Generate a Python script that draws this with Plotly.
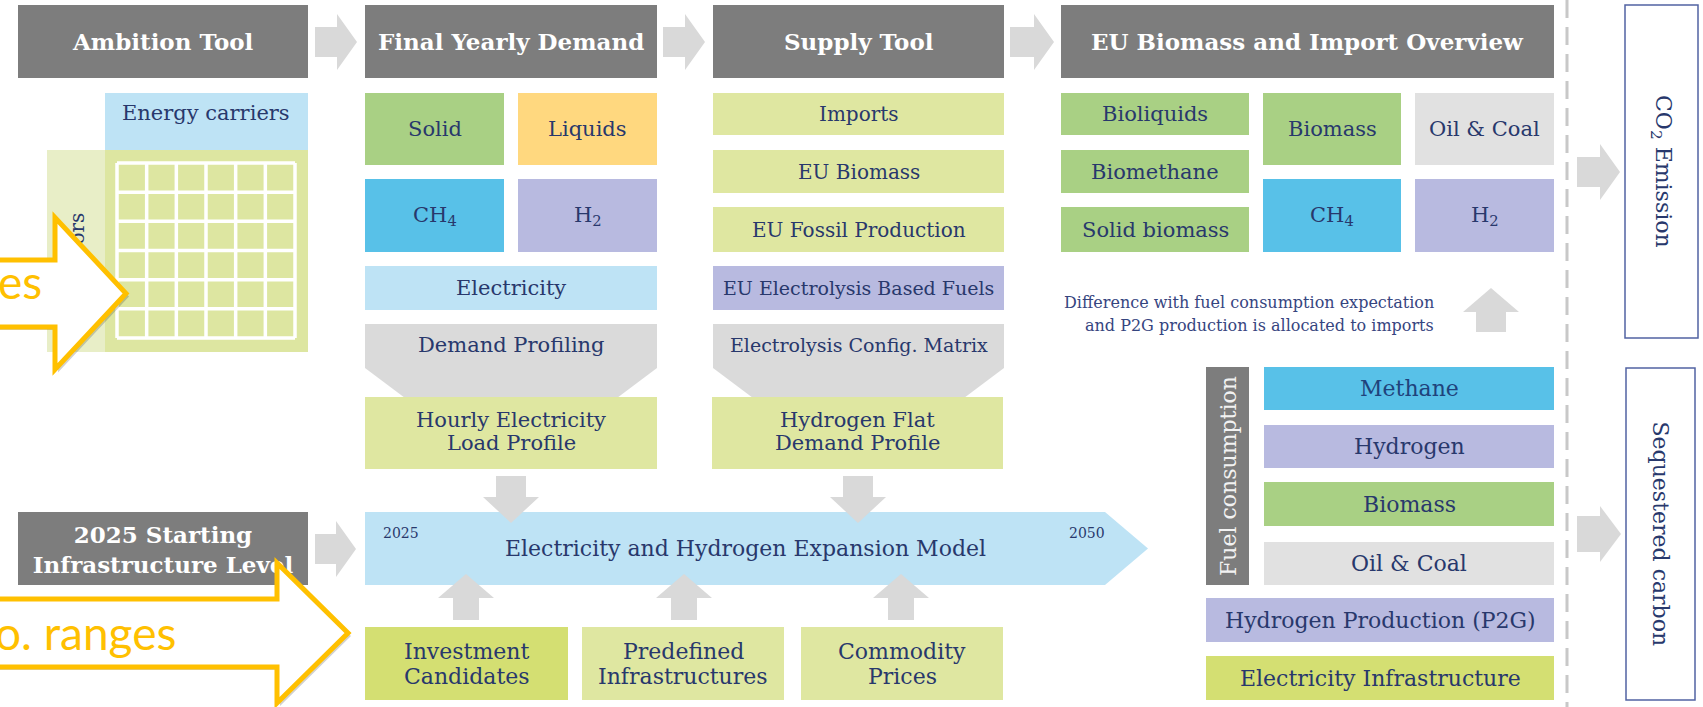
import plotly.graph_objects as go

W, H = 1703, 707
FONT = "DejaVu Serif"
NAVY = "#28386c"

# ---------------- text content ----------------
header_labels = ["Ambition Tool", "Final Yearly Demand", "Supply Tool", "EU Biomass and Import Overview"]
start_label = "2025 Starting<br>Infrastructure Level"
matrix_labels = ["Energy carriers", "Sectors"]
matrix_rows, matrix_cols = 6, 6
demand_labels = ["Solid", "Liquids", "CH<sub>4</sub>", "H<sub>2</sub>", "Electricity"]
supply_labels = ["Imports", "EU Biomass", "EU Fossil Production", "EU Electrolysis Based Fuels"]
profiling_labels = ["Demand Profiling", "Electrolysis Config. Matrix"]
profile_labels = [["Hourly Electricity", "Load Profile"], ["Hydrogen Flat", "Demand Profile"]]
model_label = "Electricity and Hydrogen Expansion Model"
horizon_labels = ["2025", "2050"]
input_labels = [["Investment", "Candidates"], ["Predefined", "Infrastructures"], ["Commodity", "Prices"]]
overview_labels = ["Bioliquids", "Biomethane", "Solid biomass", "Biomass", "Oil & Coal",
                   "CH<sub>4</sub>", "H<sub>2</sub>"]
note_lines = ["Difference with fuel consumption expectation",
              "and P2G production is allocated to imports"]
side_label = "Fuel consumption"
fuel_labels = ["Methane", "Hydrogen", "Biomass", "Oil & Coal"]
production_labels = ["Hydrogen Production (P2G)", "Electricity Infrastructure"]
outcome_labels = ["CO<sub>2</sub> Emission", "Sequestered carbon"]
callout_labels = ["es", "o. ranges"]

# ---------------- colours ----------------
DARK = "#7d7d7d"
ARROW = "#d9d9d9"
GREEN = "#a9d084"
ORANGE = "#ffd87f"
CYAN = "#58c1e8"
LAV = "#b8bae0"
LBLUE = "#bee3f5"
YG = "#dfe7a1"
YG2 = "#d4df72"
GREY = "#e1e1e1"
FUNNEL = "#dadada"
GOLD = "#ffc000"

# ---------------- layout geometry (x0, x1, y0, y1) in pixels ----------------
header_geo = [(18, 308, 5, 78), (365, 657, 5, 78), (713, 1004, 5, 78), (1061, 1554, 5, 78)]
start_geo = (18, 308, 512, 585)
demand_geo = [(365, 504, 93, 165), (518, 657, 93, 165), (365, 504, 179, 252),
              (518, 657, 179, 252), (365, 657, 266, 310)]
demand_col = [GREEN, ORANGE, CYAN, LAV, LBLUE]
supply_geo = [(713, 1004, 93, 135), (713, 1004, 150, 193), (713, 1004, 207, 252), (713, 1004, 266, 310)]
supply_col = [YG, YG, YG, LAV]
supply_size = [20, 20, 20, 19]
funnel_geo = [(365, 657, 324, 368, 398, 40), (713, 1004, 324, 368, 398, 40)]
profile_geo = [(365, 657, 397, 469), (712, 1003, 397, 469)]
input_geo = [(365, 568, 627, 700), (582, 784, 627, 700), (801, 1003, 627, 700)]
input_col = [YG2, YG, YG]
overview_geo = [(1061, 1249, 93, 135), (1061, 1249, 150, 193), (1061, 1249, 207, 252),
                (1263, 1401, 93, 165), (1415, 1554, 93, 165), (1263, 1401, 179, 252), (1415, 1554, 179, 252)]
overview_col = [GREEN, GREEN, GREEN, GREEN, GREY, CYAN, LAV]
side_geo = (1206, 1249, 367, 585)
fuel_geo = [(1264, 1554, 367, 410), (1264, 1554, 425, 468), (1264, 1554, 482, 526), (1264, 1554, 542, 585)]
fuel_col = [CYAN, LAV, GREEN, GREY]
production_geo = [(1206, 1554, 598, 642), (1206, 1554, 656, 700)]
production_col = [LAV, YG2]
outcome_geo = [(1625, 1698, 5, 338), (1626, 1695, 368, 700)]

shapes = []
annotations = []


def rect(g, fill, label=None, line=None):
    d = dict(type="rect", xref="x", yref="y", x0=g[0], x1=g[1], y0=g[2], y1=g[3],
             fillcolor=fill, line=line or dict(width=0), layer="above")
    if label:
        d["label"] = label
    shapes.append(d)


def poly(pts, fill, line=None):
    path = "M " + " L ".join(f"{x},{y}" for x, y in pts) + " Z"
    shapes.append(dict(type="path", xref="x", yref="y", path=path, fillcolor=fill,
                       line=line or dict(width=0), layer="above"))


def harrow(x0, x1, yc, bh, hh, hl, fill=ARROW):
    poly([(x0, yc - bh), (x1 - hl, yc - bh), (x1 - hl, yc - hh), (x1, yc),
          (x1 - hl, yc + hh), (x1 - hl, yc + bh), (x0, yc + bh)], fill)


def varrow(xc, y0, y1, bw, hw, hl, fill=ARROW):
    s = 1 if y1 > y0 else -1
    yb = y1 - s * hl
    poly([(xc - bw, y0), (xc - bw, yb), (xc - hw, yb), (xc, y1),
          (xc + hw, yb), (xc + bw, yb), (xc + bw, y0)], fill)


def txt(x, y, text, size=21, color=NAVY, angle=0, xanchor="center", family=FONT):
    annotations.append(dict(x=x, y=y, xref="x", yref="y", text=text, showarrow=False,
                            font=dict(family=family, size=size, color=color),
                            textangle=angle, xanchor=xanchor, yanchor="middle"))


def center(g):
    return (g[0] + g[1]) / 2, (g[2] + g[3]) / 2


# ---------------- headers ----------------
for lab, g in zip(header_labels, header_geo):
    rect(g, DARK)
    cx, cy = center(g)
    txt(cx, cy, f"<b>{lab}</b>", 23, "white")

for x0, x1, yc in [(315, 357, 42), (663, 705, 42), (1010, 1054, 42), (315, 356, 549)]:
    harrow(x0, x1, yc, 15, 28, 20)

# ---------------- ambition matrix ----------------
rect((105, 308, 93, 150), LBLUE)
txt(206, 113, matrix_labels[0], 21)
rect((47, 105, 150, 352), "#e8eec7",
     label=dict(text=matrix_labels[1], textangle=-90, textposition="middle center",
                font=dict(family=FONT, size=20, color=NAVY)))
rect((105, 308, 150, 352), "#dde6a1")
gx0, gx1, gy0, gy1 = 117, 295, 163, 338
for i in range(matrix_cols + 1):
    x = gx0 + i * (gx1 - gx0) / matrix_cols
    shapes.append(dict(type="line", x0=x, x1=x, y0=gy0, y1=gy1, xref="x", yref="y",
                       line=dict(color="white", width=3.5), layer="above"))
for j in range(matrix_rows + 1):
    y = gy0 + j * (gy1 - gy0) / matrix_rows
    shapes.append(dict(type="line", x0=gx0, x1=gx1, y0=y, y1=y, xref="x", yref="y",
                       line=dict(color="white", width=3.5), layer="above"))

# ---------------- start infrastructure box (label under the call-out arrow) ----------------
rect(start_geo, DARK, label=dict(text=f"<b>{start_label}</b>", textposition="middle center",
                                 font=dict(family=FONT, size=23, color="white")))

# ---------------- final yearly demand ----------------
for lab, g, c in zip(demand_labels, demand_geo, demand_col):
    rect(g, c)
    cx, cy = center(g)
    txt(cx, cy, lab, 21)

# ---------------- supply tool ----------------
for lab, g, c, s in zip(supply_labels, supply_geo, supply_col, supply_size):
    rect(g, c)
    cx, cy = center(g)
    txt(cx, cy, lab, s)

# ---------------- funnels + profiles ----------------
for lab, (x0, x1, yt, ym, yb, ins), s in zip(profiling_labels, funnel_geo, [21, 19]):
    poly([(x0, yt), (x1, yt), (x1, ym), (x1 - ins, yb), (x0 + ins, yb), (x0, ym)], FUNNEL)
    txt((x0 + x1) / 2, 345, lab, s)
for lines, g in zip(profile_labels, profile_geo):
    rect(g, YG)
    cx, _ = center(g)
    txt(cx, 420, lines[0], 21)
    txt(cx, 443, lines[1], 21)

# ---------------- expansion model ----------------
poly([(365, 512), (1105, 512), (1148, 548.5), (1105, 585), (365, 585)], LBLUE)
txt(745, 548, model_label, 22)
txt(401, 533, horizon_labels[0], 14)
txt(1087, 533, horizon_labels[1], 14)
for xc in [511, 858]:
    varrow(xc, 476, 523, 15, 28, 26)
for xc in [466, 684, 901]:
    varrow(xc, 620, 574, 13, 28, 24)
for lines, g, c in zip(input_labels, input_geo, input_col):
    rect(g, c)
    cx, _ = center(g)
    txt(cx, 651, lines[0], 22)
    txt(cx, 676, lines[1], 22)

# ---------------- EU biomass and import overview ----------------
for lab, g, c in zip(overview_labels, overview_geo, overview_col):
    rect(g, c)
    cx, cy = center(g)
    txt(cx, cy, lab, 21)
txt(1436, 302, note_lines[0], 16, "#36457f", xanchor="right")
txt(1436, 325, note_lines[1], 16, "#36457f", xanchor="right")
varrow(1491, 332, 288, 15, 28, 24)

# ---------------- fuel consumption ----------------
rect(side_geo, DARK)
txt(1228, 476, side_label, 22, "#f2f2f2", angle=-90)
for lab, g, c in zip(fuel_labels, fuel_geo, fuel_col):
    rect(g, c)
    cx, cy = center(g)
    txt(cx, cy, lab, 22, "#1f437c" if c == CYAN else NAVY)
for lab, g, c in zip(production_labels, production_geo, production_col):
    rect(g, c)
    cx, cy = center(g)
    txt(cx, cy, lab, 22)

# ---------------- divider + outcomes ----------------
shapes.append(dict(type="line", x0=1567, x1=1567, y0=0, y1=H, xref="x", yref="y",
                   line=dict(color="#c8c8c8", width=3, dash="18px,9px"), layer="above"))
harrow(1577, 1620, 172, 15, 28, 20)
harrow(1577, 1621, 534, 18, 28, 21)
for lab, g in zip(outcome_labels, outcome_geo):
    rect(g, "white", line=dict(color="#5263a3", width=1.5))
    cx, cy = center(g)
    txt(cx, cy, lab, 22, angle=90)

# ---------------- yellow call-out arrows (overlay) ----------------
callout_geo = [(-20, 55, 126, 293.5, 33.5, 76), (-20, 277, 348, 633, 34, 70)]
for x0, xh, xt, yc, bh, hh in callout_geo:
    pts = [(x0, yc - bh), (xh, yc - bh), (xh, yc - hh), (xt, yc), (xh, yc + hh), (xh, yc + bh), (x0, yc + bh)]
    poly([(x + 3, y + 3) for x, y in pts], "rgba(0,0,0,0.18)")
    poly(pts, "white", line=dict(color=GOLD, width=5))
txt(44, 281, callout_labels[0], 46, GOLD, xanchor="right", family="Lato")
txt(178, 632, callout_labels[1], 46, GOLD, xanchor="right", family="Lato")

fig = go.Figure()
fig.add_trace(go.Scatter(x=[0, W], y=[0, H], mode="markers", marker=dict(opacity=0),
                         hoverinfo="skip", showlegend=False))
fig.update_layout(
    width=W, height=H, margin=dict(l=0, r=0, t=0, b=0),
    paper_bgcolor="white", plot_bgcolor="white",
    xaxis=dict(range=[0, W], visible=False, fixedrange=True),
    yaxis=dict(range=[H, 0], visible=False, fixedrange=True),
    shapes=shapes, annotations=annotations, showlegend=False,
)
fig.write_html("out.html", config={"displayModeBar": False},
               post_script="document.body.style.margin='0';document.body.style.overflow='hidden';")
